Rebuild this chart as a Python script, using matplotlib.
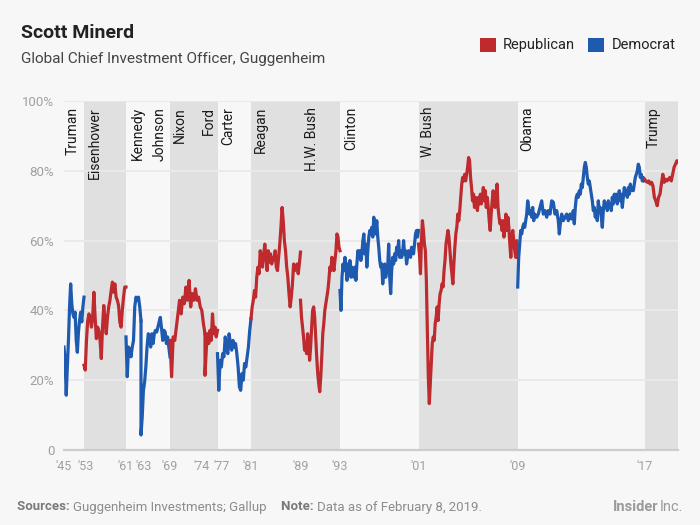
import numpy as np
import matplotlib
matplotlib.use("Agg")
import matplotlib.pyplot as plt
from matplotlib.patches import Rectangle
from matplotlib.transforms import ScaledTranslation

plt.rcParams['font.family'] = ['Roboto', 'DejaVu Sans']

# ---------------- DATA ----------------
# x axis = cumulative poll index (Gallup polls are irregularly spaced in time)
term_years = [1945, 1953, 1961, 1963, 1969, 1974, 1977, 1981, 1989, 1993, 2001, 2009, 2017]
term_start_idx = [0, 20, 62, 77, 106, 141, 153.5, 187, 236.5, 276, 354.5, 453.7, 580.5]
end_idx = 614.3
presidents = ["Truman", "Eisenhower", "Kennedy", "Johnson", "Nixon", "Ford", "Carter",
              "Reagan", "H.W. Bush", "Clinton", "W. Bush", "Obama", "Trump"]
parties = ["D", "R", "D", "D", "R", "R", "D", "R", "R", "D", "R", "D", "R"]

truman = [29.5, 25.7, 15.7, 23.8, 31.4, 41, 47.6, 41.9, 39, 38, 39.5, 31.4, 28, 33.8, 37,
          39.5, 36.7, 41, 43.8]
eisenhower = [24.3, 22.9, 31.4, 37, 39, 38, 35.2, 38, 45.2, 38, 31.9, 35.2, 34.3, 31.4, 26.2,
              35.2, 41.4, 37, 33.3, 38, 41, 42.9, 45.7, 48.1, 45.2, 47.6, 43.8, 42.9, 41.4,
              36.7, 35.2, 40, 43.8, 46.7, 46.7]
kennedy = [32.4, 21, 29.5, 28.6, 26.7, 29.5, 31.4, 41, 43.8, 42.9, 43.8, 41, 37]
johnson = [4.3, 9.5, 17.1, 19.5, 23.8, 29.5, 33.3, 32.9, 29.5, 33.3, 30.5, 33.3, 34.3, 33.8,
           35.2, 36.7, 38, 34.8, 31.4, 34.3, 33.8, 30.5, 32.4, 29.5, 26.7]
nixon = [31.4, 21, 32.4, 31.4, 35.2, 39, 42.9, 39, 43.8, 41.9, 46.7, 42.9, 48.6, 41, 44.8,
         42.9, 46.2, 42.9, 43.8, 41, 40, 36.2, 33.3]
ford = [21.4, 28.6, 33.3, 30.5, 34.3, 31.4, 39, 33.3, 35.2, 32.4, 34.3]
carter = [27.6, 17.1, 25.7, 23.8, 27.6, 26.7, 32.4, 29.5, 27.6, 33.3, 30.5, 28.6, 31.4, 29.5,
          30.5, 27.6, 23.8, 18.1, 17.1, 21.9, 20, 24.8, 23.8, 26.7, 29.5, 34.3, 37.6]
reagan = [37.6, 41, 42.9, 45.7, 43.8, 49.5, 52.4, 50.5, 57.1, 55.2, 52.4, 56.2, 59, 55.2, 51.4,
          57.1, 53.8, 56.2, 53.3, 55.2, 54.3, 57.1, 52.4, 51.4, 55.2, 59, 63.8, 69.5, 65.7, 60,
          57.1, 52.4, 49.5, 44.8, 41, 43.8, 47.6, 53.3, 51.4, 52.4, 53.3, 50.5, 53.3, 56.7]
hw_bush = [42.9, 38, 35.2, 32.4, 28.6, 30.5, 27.6, 33.3, 30.5, 25.7, 29.5, 35.2, 40, 41, 38,
           32.4, 26.7, 21.9, 19, 16.7, 21, 26.7, 33.3, 36.2, 40, 41.9, 43.8, 45.7, 48.6, 52.4,
           51.4, 55.2, 53.3, 51.4, 54.3, 57.1, 61.9, 61, 58.1, 57.1]
clinton = [45.7, 40, 49.5, 53.3, 51.4, 55.2, 52.4, 48.6, 53.3, 51.4, 54.3, 49.5, 52.4, 51.4,
           49.5, 52.4, 48.6, 53.3, 57.1, 55.2, 57.1, 54.3, 56.2, 60, 61.9, 56.2, 59, 52.4, 57.1,
           61, 62.9, 61.9, 63.8, 61, 66.7, 63.8, 61.9, 65.7, 61, 58.1, 54.3, 52.4, 53.3, 47.6,
           51.4, 53.3, 49.5, 51.4, 52.4, 59, 49.5, 44.8, 51.4, 55.2, 53.3, 56.2, 54.3, 58.1,
           56.2, 60, 55.2, 57.1, 55.2, 56.2, 60, 56.2, 57.1, 53.3, 55.2, 57.1, 56.2, 55.2, 58.1,
           57.1, 56.2, 59, 61.9, 62.9, 61, 62.9]
w_bush = [59, 56.2, 50.5, 60, 65.7, 62.9, 59, 57.1, 48.6, 34.3, 21, 13.3, 19, 24.8, 30.5, 32.4,
          31.4, 36.2, 38.1, 41, 37.1, 41.9, 44.8, 45.7, 47.6, 46.7, 51.4, 54.3, 59, 61, 62.9,
          61, 57.1, 53.3, 50.5, 47.6, 53.3, 58.1, 61.9, 63.8, 67.6, 65.7, 68.6, 72.4, 76.2,
          78.1, 77.1, 79, 77.1, 79, 81, 83.8, 82.9, 78.1, 75.2, 71.4, 73.3, 69.5, 72.4, 71.4,
          68.6, 72.4, 70.5, 73.3, 70.5, 72.4, 75.2, 71.4, 74.3, 69.5, 72.4, 69.5, 65.7, 62.9,
          67.6, 71.4, 74.3, 71.4, 69.5, 72.4, 76.2, 69.5, 66.7, 64.8, 65.7, 62.9, 65.7, 61,
          63.8, 67.6, 62.9, 66.7, 63.8, 59, 55.2, 61, 62.9, 60, 57.1, 55.2, 60, 55.2]
obama = [46.7, 55.2, 59, 62.9, 61.9, 63.8, 64.8, 63.8, 65.7, 67.6, 71.4, 69.5, 67.6, 68.6, 66.7,
         69.5, 65.7, 67.6,
         66.7, 67.6, 69.5, 71.4, 67.6, 68.6, 66.7, 68.6, 67.6, 71.4, 71, 67.6, 68.6, 65.7, 61.9,
         64.8, 67.6, 65.7, 66.7, 67.6, 65.7, 67.6, 66.2, 68.6,
         64.8, 69.5, 72.4, 73.3, 72.4, 74.3, 73.3, 76.2, 75.2, 78.1, 81, 82.4, 81, 78.1, 76.2,
         77.1, 75.2, 73.3, 71.4, 68.6, 69.5, 66.7, 68.6, 65.7, 71.4, 68.6, 69.5, 66.7, 63.8,
         68.6, 71.4, 69.5, 70.5, 68.6, 71.4, 69.5, 70.5, 68.6, 72.4, 70.5, 73.3, 71.4, 73.3,
         70.5, 72.4, 74.3, 71.4, 73.3, 69.5, 72.4, 75.2, 73.3, 74.3, 72.4, 75.2, 73.3, 76.2,
         74.3, 75.2, 74.3, 76.2, 78.1, 79, 80, 81.9, 81, 78.1, 79, 77.1, 78.1, 77.1]
obama_idx = list(np.arange(18) + 453.7) + [
    472.7, 474.3, 476, 477.7, 479.3, 481, 482.7, 484.3, 486, 487.7, 489.3, 491, 492.7, 494.3,
    495.3, 496.3, 497.7, 499.3, 501, 502.7, 504.3, 506, 507.7, 509.3] + list(np.arange(71) + 510.3)
trump = [77.6, 77.1, 76.7, 77.1, 76.2, 76.7, 75.7, 72.4, 71.4, 70, 72.4, 73.3, 76.2, 79, 76.7,
         77.6, 77.1, 77.6, 78.1, 77.1, 79, 81, 81.9, 82.9, 82.4]

series = [truman, eisenhower, kennedy, johnson, nixon, ford, carter, reagan, hw_bush,
          clinton, w_bush, obama, trump]
explicit_idx = {"Obama": obama_idx}
joined = {"Johnson", "Ford"}   # continue the previous same-party line

y_ticks = [0, 20, 40, 60, 80, 100]
y_labels = ["0", "20%", "40%", "60%", "80%", "100%"]

# ---------------- STYLE / LAYOUT ----------------
RED = "#BF2A2E"
BLUE = "#1E5AAF"
BG = "#F7F7F7"
SHADE = "#E0E0E0"
colors = {"R": RED, "D": BLUE}
label_x = [8.7, 31, 74.3, 95.3, 116, 145, 164.3, 196.7, 247.7, 287.7, 364.3, 463.3, 589.3]
tick_shift_px = {1953: 1.5, 1963: 2.5, 1974: -4, 1977: 4.5}

W, H = 700, 525
fig = plt.figure(figsize=(W / 100, H / 100), dpi=100, facecolor=BG)
ax = fig.add_axes([64 / W, (H - 450) / H, 614.3 / W, 349 / H])
ax.set_facecolor(BG)
ax.set_xlim(0, end_idx)
ax.set_ylim(0, 100)

bounds = term_start_idx + [end_idx]
for i, p in enumerate(parties):
    if p == "R":
        ax.axvspan(bounds[i], bounds[i + 1], color=SHADE, lw=0, zorder=0.5)

for y in y_ticks[1:]:
    ax.axhline(y, color="#EAEAEA", lw=1.4, zorder=1)
ax.axhline(0, color="#CDCDCD", lw=1.6, zorder=1, clip_on=False)

prev_end = None
for i, (name, vals) in enumerate(zip(presidents, series)):
    if name in explicit_idx:
        xs = np.asarray(explicit_idx[name], dtype=float)
    else:
        xs = np.linspace(bounds[i], bounds[i + 1], len(vals))
    ys = np.asarray(vals, dtype=float)
    if name in joined and prev_end is not None:
        xs = np.r_[prev_end[0], xs]
        ys = np.r_[prev_end[1], ys]
    ax.plot(xs, ys, color=colors[parties[i]], lw=2.3, solid_joinstyle="round", zorder=3)
    prev_end = (xs[-1], ys[-1])

for name, lx in zip(presidents, label_x):
    ax.text(lx, 98.3, name, rotation=90, ha="center", va="top", fontsize=10,
            color="#1A1A1A", zorder=4)

for s in ax.spines.values():
    s.set_visible(False)
ax.set_yticks(y_ticks)
ax.set_yticklabels(y_labels)
ax.set_xticks(term_start_idx)
ax.set_xticklabels(["'" + str(y)[2:] for y in term_years])
ax.tick_params(axis="y", length=0, labelsize=9.5, labelcolor="#A0A0A0", pad=7)
ax.tick_params(axis="x", length=0, labelsize=9, labelcolor="#A0A0A0", pad=7)
for lbl, yr in zip(ax.get_xticklabels(), term_years):
    dx = tick_shift_px.get(yr, 0)
    if dx:
        lbl.set_transform(lbl.get_transform() + ScaledTranslation(dx / 100, 0, fig.dpi_scale_trans))

# titles
fig.text(21 / W, 1 - 33 / H, "Scott Minerd", fontsize=14, weight="bold", color="#222222",
         va="center", ha="left")
fig.text(21 / W, 1 - 59 / H, "Global Chief Investment Officer, Guggenheim", fontsize=11,
         color="#444444", va="center", ha="left")

# legend
fig.add_artist(Rectangle((480 / W, 1 - 52 / H), 16 / W, 14 / H, transform=fig.transFigure,
                         color=RED, lw=0))
fig.text(503 / W, 1 - 45 / H, "Republican", fontsize=10.5, color="#222222", va="center")
fig.add_artist(Rectangle((588 / W, 1 - 52 / H), 16 / W, 14 / H, transform=fig.transFigure,
                         color=BLUE, lw=0))
fig.text(612 / W, 1 - 45 / H, "Democrat", fontsize=10.5, color="#222222", va="center")

# footer
fig.canvas.draw()
renderer = fig.canvas.get_renderer()
def runs(x0, y, parts):
    x = x0
    for txt, kw in parts:
        t = fig.text(x / W, y, txt, va="center", ha="left", fontsize=9.5, **kw)
        bb = t.get_window_extent(renderer)
        x = bb.x1
    return x
yf = 1 - 507 / H
runs(17, yf, [("Sources: ", dict(color="#7A7A7A", weight="bold")),
              ("Guggenheim Investments; Gallup", dict(color="#8C8C8C"))])
runs(281, yf, [("Note: ", dict(color="#7A7A7A", weight="bold")),
               ("Data as of February 8, 2019.", dict(color="#8C8C8C"))])
t_inc = fig.text(683 / W, yf, "Inc.", va="center", ha="right", fontsize=10.5, color="#9A9A9A")
bb = t_inc.get_window_extent(renderer)
fig.text((bb.x0 - 1) / W, yf, "Insider", va="center", ha="right", fontsize=10.5,
         color="#9A9A9A", weight="bold")

fig.savefig("out.png", dpi=100, facecolor=BG)
